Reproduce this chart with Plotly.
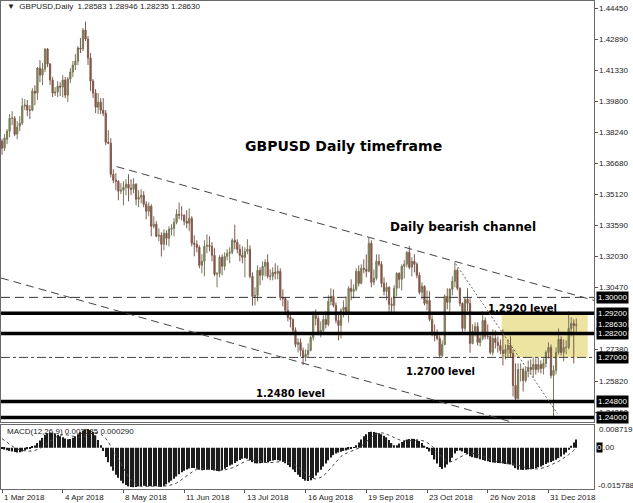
import plotly.graph_objects as go

# ---------------- DATA (GBPUSD daily, 1 Mar 2018 .. 16 Jan 2019) ----------------
opens = [
    1.3780,1.3745,1.3790,1.3830,1.3895,1.3895,1.3815,1.3855,1.3870,1.3955,1.3960,1.3935,1.3935,1.4030,1.4020,1.4145,1.4110,1.4140,1.4240,1.4165,1.4085,1.4020,
    1.4025,1.4055,1.4050,1.4085,1.4010,1.4090,1.4125,1.4160,1.4180,1.4245,1.4240,1.4335,1.4290,1.4195,1.4080,1.4020,1.3950,1.3975,1.3935,1.3920,1.3775,
    1.3770,1.3615,1.3585,1.3580,1.3530,1.3535,1.3550,1.3565,1.3545,1.3540,1.3565,1.3490,1.3500,1.3510,1.3465,1.3430,1.3455,1.3355,1.3365,1.3305,1.3310,1.3265,1.3320,
    1.3295,1.3340,1.3345,1.3375,1.3415,1.3410,1.3410,1.3380,1.3370,1.3395,1.3270,1.3265,1.3250,1.3160,1.3180,1.3255,1.3260,1.3255,1.3210,1.3115,1.3120,
    1.3200,1.3155,1.3205,1.3220,1.3225,1.3285,1.3275,1.3240,1.3210,1.3200,1.3230,1.3240,1.3105,1.3005,1.3010,1.3135,1.3110,1.3155,1.3175,1.3105,1.3105,1.3125,
    1.3120,1.3130,1.3000,1.2995,1.2935,1.2900,1.2890,1.2835,1.2765,1.2775,1.2735,1.2700,1.2715,1.2735,1.2800,1.2910,1.2895,1.2825,1.2835,1.2890,1.2865,1.2980,1.3005,
    1.2960,1.2885,1.2860,1.2935,1.2950,1.2925,1.3045,1.3030,1.3040,1.3130,1.3070,1.3145,1.3140,1.3130,1.3270,1.3075,1.3095,1.3180,1.3165,1.3070,
    1.3030,1.3050,1.2965,1.2960,1.3045,1.3120,1.3090,1.3155,1.3165,1.3225,1.3150,1.3180,1.3165,1.3110,1.3025,1.3055,1.2970,1.2985,1.2890,1.2815,1.2810,1.2795,1.2710,
    1.2765,1.3005,1.2975,1.3040,1.3080,1.3135,1.3045,1.2970,1.2845,1.2990,1.2970,1.2770,1.2830,1.2855,1.2775,1.2795,1.2885,1.2805,1.2805,1.2725,1.2795,1.2775,
    1.2760,1.2735,1.2720,1.2740,1.2760,1.2720,1.2560,1.2495,1.2640,1.2640,1.2585,1.2630,1.2650,1.2640,1.2665,1.2640,1.2665,1.2645,1.2670,1.2725,
    1.2750,1.2610,1.2635,1.2725,1.2790,1.2725,1.2750,1.2750,1.2845,1.2870,1.28583]
highs = [
    1.3792,1.3815,1.3840,1.3915,1.3930,1.3905,1.3880,1.3905,1.3995,1.3990,1.3985,1.3960,1.4045,1.4060,1.4150,1.4185,1.4170,1.4245,1.4245,1.4170,1.4100,1.4050,
    1.4080,1.4075,1.4110,1.4100,1.4100,1.4145,1.4180,1.4215,1.4255,1.4295,1.4345,1.4377,1.4305,1.4220,1.4090,1.4040,1.4020,1.3995,1.3995,1.3935,1.3835,
    1.3795,1.3640,1.3620,1.3585,1.3570,1.3580,1.3590,1.3615,1.3590,1.3595,1.3570,1.3535,1.3540,1.3530,1.3480,1.3475,1.3465,1.3405,1.3380,1.3345,1.3325,1.3340,1.3335,
    1.3355,1.3365,1.3395,1.3440,1.3473,1.3455,1.3415,1.3435,1.3445,1.3405,1.3310,1.3285,1.3260,1.3215,1.3285,1.3315,1.3305,1.3275,1.3245,1.3125,1.3210,
    1.3215,1.3225,1.3240,1.3250,1.3295,1.3363,1.3290,1.3265,1.3255,1.3250,1.3290,1.3260,1.3125,1.3050,1.3160,1.3150,1.3180,1.3190,1.3215,1.3140,1.3150,1.3170,
    1.3160,1.3145,1.3040,1.3000,1.2985,1.2925,1.2895,1.2850,1.2795,1.2795,1.2750,1.2740,1.2770,1.2810,1.2930,1.2940,1.2910,1.2880,1.2910,1.2930,1.3010,1.3045,1.3040,
    1.2975,1.2925,1.2945,1.2985,1.3005,1.3055,1.3090,1.3065,1.3145,1.3160,1.3165,1.3190,1.3215,1.3297,1.3285,1.3140,1.3215,1.3215,1.3180,1.3100,
    1.3075,1.3055,1.3000,1.3060,1.3125,1.3125,1.3165,1.3185,1.3230,1.3257,1.3200,1.3215,1.3175,1.3125,1.3075,1.3060,1.3035,1.3030,1.2910,1.2865,1.2840,1.2810,1.2785,
    1.3015,1.3045,1.3045,1.3105,1.3175,1.3145,1.3050,1.2975,1.3000,1.3045,1.2995,1.2865,1.2875,1.2875,1.2825,1.2930,1.2900,1.2865,1.2810,1.2840,1.2835,1.2805,
    1.2790,1.2840,1.2765,1.2790,1.2805,1.2740,1.2670,1.2670,1.2670,1.2650,1.2650,1.2685,1.2690,1.2700,1.2695,1.2700,1.2685,1.2695,1.2735,1.2775,
    1.2765,1.2660,1.2750,1.2845,1.2805,1.2790,1.2785,1.2930,1.2900,1.2890,1.28946]
lows = [
    1.3712,1.3730,1.3765,1.3800,1.3860,1.3805,1.3790,1.3830,1.3860,1.3935,1.3905,1.3890,1.3930,1.3960,1.3985,1.4075,1.4060,1.4125,1.4150,1.4060,1.4000,1.4005,
    1.4000,1.4005,1.4000,1.3995,1.3975,1.4070,1.4100,1.4135,1.4160,1.4220,1.4230,1.4280,1.4160,1.4030,1.3995,1.3920,1.3915,1.3915,1.3905,1.3760,1.3765,
    1.3600,1.3570,1.3535,1.3485,1.3515,1.3460,1.3510,1.3480,1.3510,1.3520,1.3460,1.3450,1.3470,1.3450,1.3390,1.3405,1.3305,1.3345,1.3300,1.3280,1.3204,1.3235,1.3260,
    1.3255,1.3310,1.3305,1.3365,1.3390,1.3385,1.3360,1.3345,1.3330,1.3255,1.3205,1.3225,1.3145,1.3120,1.3105,1.3220,1.3230,1.3180,1.3105,1.3050,1.3100,
    1.3110,1.3135,1.3185,1.3170,1.3215,1.3240,1.3220,1.3180,1.3170,1.3100,1.3215,1.3095,1.2958,1.2960,1.2980,1.3060,1.3085,1.3105,1.3095,1.3085,1.3085,1.3090,
    1.3090,1.2985,1.2955,1.2920,1.2880,1.2850,1.2815,1.2750,1.2725,1.2705,1.2662,1.2680,1.2700,1.2730,1.2785,1.2860,1.2810,1.2800,1.2825,1.2845,1.2855,1.2960,1.2950,
    1.2870,1.2785,1.2795,1.2900,1.2910,1.2875,1.2985,1.2995,1.3030,1.3055,1.3065,1.3120,1.3100,1.3125,1.3050,1.3060,1.3085,1.3155,1.3050,1.3010,
    1.2985,1.2925,1.2925,1.2925,1.3005,1.3045,1.3035,1.3095,1.3150,1.3140,1.3105,1.3125,1.3095,1.3015,1.2990,1.2960,1.2935,1.2880,1.2805,1.2780,1.2785,1.2696,1.2700,
    1.2760,1.2940,1.2915,1.3010,1.3050,1.3035,1.2955,1.2825,1.2830,1.2930,1.2723,1.2765,1.2805,1.2760,1.2755,1.2785,1.2790,1.2790,1.2715,1.2710,1.2745,1.2725,
    1.2715,1.2660,1.2690,1.2700,1.2700,1.2505,1.2477,1.2490,1.2580,1.2530,1.2575,1.2600,1.2615,1.2600,1.2615,1.2625,1.2620,1.2615,1.2650,1.2695,
    1.2595,1.2405,1.2615,1.2715,1.2710,1.2680,1.2715,1.2740,1.2805,1.2670,1.28235]
closes = [
    1.3745,1.3795,1.3830,1.3895,1.3895,1.3815,1.3850,1.3870,1.3955,1.3960,1.3935,1.3935,1.4030,1.4020,1.4145,1.4110,1.4140,1.4240,1.4165,1.4085,1.4020,1.4025,
    1.4055,1.4050,1.4085,1.4010,1.4090,1.4125,1.4160,1.4180,1.4245,1.4240,1.4335,1.4290,1.4195,1.4080,1.4020,1.3950,1.3975,1.3935,1.3920,1.3775,1.3770,
    1.3615,1.3585,1.3580,1.3530,1.3535,1.3550,1.3565,1.3545,1.3540,1.3565,1.3490,1.3500,1.3510,1.3465,1.3430,1.3455,1.3355,1.3365,1.3305,1.3310,1.3265,1.3320,1.3295,
    1.3340,1.3345,1.3375,1.3415,1.3410,1.3410,1.3380,1.3370,1.3395,1.3270,1.3265,1.3250,1.3160,1.3180,1.3255,1.3260,1.3255,1.3210,1.3115,1.3120,1.3200,
    1.3155,1.3205,1.3220,1.3225,1.3285,1.3275,1.3240,1.3210,1.3200,1.3230,1.3240,1.3105,1.3005,1.3010,1.3135,1.3110,1.3155,1.3175,1.3105,1.3105,1.3125,1.3120,
    1.3130,1.3000,1.2995,1.2935,1.2900,1.2890,1.2835,1.2765,1.2775,1.2735,1.2700,1.2715,1.2735,1.2800,1.2910,1.2895,1.2825,1.2835,1.2890,1.2865,1.2980,1.3005,1.2960,
    1.2885,1.2860,1.2935,1.2950,1.2925,1.3045,1.3030,1.3040,1.3130,1.3070,1.3145,1.3140,1.3130,1.3270,1.3075,1.3095,1.3180,1.3165,1.3070,1.3030,
    1.3050,1.2965,1.2960,1.3045,1.3120,1.3090,1.3155,1.3165,1.3225,1.3150,1.3180,1.3165,1.3110,1.3025,1.3055,1.2970,1.2985,1.2890,1.2815,1.2810,1.2795,1.2710,1.2765,
    1.3005,1.2975,1.3040,1.3080,1.3135,1.3045,1.2970,1.2845,1.2990,1.2970,1.2770,1.2830,1.2855,1.2775,1.2795,1.2885,1.2805,1.2805,1.2725,1.2795,1.2775,1.2760,
    1.2735,1.2720,1.2740,1.2760,1.2720,1.2560,1.2495,1.2640,1.2640,1.2585,1.2630,1.2650,1.2640,1.2665,1.2640,1.2665,1.2645,1.2670,1.2725,1.2750,
    1.2610,1.2635,1.2725,1.2790,1.2725,1.2750,1.2750,1.2845,1.2870,1.2860,1.28630]

# MACD(12,26,9) main line (histogram) and signal line
macd = [
    -0.0005,-0.0007,-0.0009,-0.0012,-0.0014,-0.0016,-0.0018,-0.0017,-0.0014,-0.0010,-0.0006,-0.0002,0.0003,0.0009,0.0018,0.0028,0.0038,0.0050,0.0056,0.0059,
    0.0058,0.0055,0.0050,0.0044,0.0040,0.0036,0.0033,0.0034,0.0038,0.0044,0.0052,0.0060,0.0066,0.0071,0.0072,0.0068,0.0060,0.0048,0.0030,0.0010,
    -0.0012,-0.0035,-0.0055,-0.0072,-0.0088,-0.0103,-0.0115,-0.0126,-0.0136,-0.0143,-0.0148,-0.0150,-0.0151,-0.0150,-0.0148,-0.0146,-0.0145,-0.0146,-0.0147,-0.0147,
    -0.0146,-0.0147,-0.0149,-0.0150,-0.0147,-0.0140,-0.0133,-0.0126,-0.0119,-0.0110,-0.0101,-0.0094,-0.0088,-0.0083,-0.0079,-0.0077,-0.0077,-0.0080,-0.0084,-0.0086,
    -0.0085,-0.0084,-0.0084,-0.0085,-0.0087,-0.0089,-0.0090,-0.0086,-0.0080,-0.0074,-0.0068,-0.0064,-0.0058,-0.0052,-0.0047,-0.0042,-0.0040,-0.0042,-0.0048,-0.0055,
    -0.0059,-0.0060,-0.0059,-0.0058,-0.0057,-0.0056,-0.0052,-0.0049,-0.0047,-0.0048,-0.0050,-0.0054,-0.0059,-0.0066,-0.0074,-0.0083,-0.0093,-0.0103,-0.0112,-0.0120,
    -0.0126,-0.0127,-0.0124,-0.0116,-0.0106,-0.0095,-0.0084,-0.0072,-0.0060,-0.0048,-0.0037,-0.0028,-0.0022,-0.0018,-0.0015,-0.0012,-0.0010,-0.0007,-0.0003,0.0002,
    0.0010,0.0020,0.0032,0.0044,0.0052,0.0060,0.0061,0.0060,0.0058,0.0056,0.0052,0.0046,0.0040,0.0030,0.0018,0.0010,0.0010,0.0016,0.0022,0.0028,
    0.0032,0.0034,0.0035,0.0034,0.0032,0.0026,0.0018,0.0008,-0.0002,-0.0014,-0.0028,-0.0045,-0.0060,-0.0074,-0.0081,-0.0076,-0.0064,-0.0055,-0.0038,-0.0022,
    -0.0012,-0.0010,-0.0014,-0.0020,-0.0025,-0.0032,-0.0036,-0.0038,-0.0040,-0.0044,-0.0047,-0.0050,-0.0052,-0.0054,-0.0056,-0.0057,-0.0058,-0.0059,-0.0060,-0.0062,
    -0.0063,-0.0064,-0.0068,-0.0078,-0.0084,-0.0084,-0.0085,-0.0084,-0.0083,-0.0082,-0.0081,-0.0078,-0.0075,-0.0072,-0.0067,-0.0062,-0.0057,-0.0054,-0.0050,-0.0046,
    -0.0040,-0.0033,-0.0026,-0.0018,-0.0008,0.0008,0.0020,0.003185]
signal = [
    0.0035,0.0028,0.0020,0.0012,0.0005,0.0000,-0.0005,-0.0008,-0.0010,-0.0012,-0.0013,-0.0013,-0.0012,-0.0010,-0.0007,-0.0002,0.0004,0.0011,0.0018,0.0025,
    0.0033,0.0040,0.0045,0.0049,0.0051,0.0051,0.0049,0.0046,0.0043,0.0041,0.0040,0.0041,0.0043,0.0046,0.0050,0.0054,0.0057,0.0058,0.0057,0.0053,
    0.0046,0.0036,0.0023,0.0008,-0.0009,-0.0027,-0.0045,-0.0063,-0.0081,-0.0097,-0.0111,-0.0123,-0.0133,-0.0140,-0.0145,-0.0148,-0.0148,-0.0148,-0.0148,-0.0148,
    -0.0147,-0.0147,-0.0147,-0.0147,-0.0147,-0.0146,-0.0145,-0.0142,-0.0139,-0.0135,-0.0129,-0.0122,-0.0115,-0.0107,-0.0100,-0.0093,-0.0087,-0.0083,-0.0080,-0.0080,
    -0.0081,-0.0082,-0.0083,-0.0084,-0.0085,-0.0086,-0.0086,-0.0086,-0.0085,-0.0083,-0.0080,-0.0077,-0.0073,-0.0068,-0.0063,-0.0057,-0.0052,-0.0048,-0.0047,-0.0047,
    -0.0048,-0.0050,-0.0052,-0.0054,-0.0056,-0.0057,-0.0057,-0.0056,-0.0054,-0.0053,-0.0052,-0.0052,-0.0053,-0.0055,-0.0058,-0.0062,-0.0067,-0.0073,-0.0081,-0.0089,
    -0.0098,-0.0106,-0.0113,-0.0117,-0.0119,-0.0118,-0.0114,-0.0108,-0.0099,-0.0088,-0.0076,-0.0064,-0.0052,-0.0042,-0.0033,-0.0026,-0.0021,-0.0017,-0.0013,-0.0010,
    -0.0006,-0.0001,0.0006,0.0015,0.0024,0.0033,0.0041,0.0048,0.0053,0.0056,0.0057,0.0056,0.0053,0.0049,0.0044,0.0039,0.0034,0.0030,0.0027,0.0026,
    0.0026,0.0026,0.0027,0.0028,0.0029,0.0029,0.0028,0.0025,0.0020,0.0014,0.0006,-0.0004,-0.0015,-0.0027,-0.0038,-0.0046,-0.0051,-0.0053,-0.0052,-0.0048,
    -0.0042,-0.0036,-0.0030,-0.0025,-0.0021,-0.0020,-0.0021,-0.0023,-0.0026,-0.0030,-0.0034,-0.0038,-0.0042,-0.0045,-0.0048,-0.0051,-0.0053,-0.0055,-0.0057,-0.0058,
    -0.0060,-0.0061,-0.0062,-0.0064,-0.0067,-0.0070,-0.0073,-0.0076,-0.0078,-0.0080,-0.0081,-0.0082,-0.0081,-0.0079,-0.0077,-0.0074,-0.0070,-0.0066,-0.0062,-0.0057,
    -0.0052,-0.0046,-0.0040,-0.0033,-0.0026,-0.0018,-0.0010,0.000290]

date_tick_bars = [0, 24, 48, 72, 96, 120, 144, 168, 192, 216]
date_tick_labels = ["1 Mar 2018", "4 Apr 2018", "8 May 2018", "11 Jun 2018", "13 Jul 2018",
                    "16 Aug 2018", "19 Sep 2018", "23 Oct 2018", "26 Nov 2018", "31 Dec 2018"]
price_ticks = [1.44450, 1.42890, 1.41330, 1.39800, 1.38240, 1.36680, 1.35120, 1.33590,
               1.32030, 1.30470, 1.27380, 1.25820, 1.24260]
level_boxes = [1.30000, 1.29200, 1.28630, 1.28200, 1.27000, 1.24800, 1.24000]
thick_levels = [1.2920, 1.2820, 1.2480, 1.2400]
round_level = 1.3000
support_level = 1.2700
last_ohlc = "1.28583 1.28946 1.28235 1.28630"
macd_label = "MACD(12,26,9) 0.003185 0.000290"
macd_axis_top, macd_axis_bottom = 0.008719, -0.015788

# trend lines (bar index, price)
upper_channel = [(45.3, 1.3653), (234.0, 1.2985)]
lower_channel = [(-0.4, 1.30967), (204.7, 1.2366)]
dotted_line = [(179.3, 1.3168), (219.5, 1.2420)]
zone = dict(x0=197.5, x1=231.5, y0=1.2700, y1=1.2920)

# ---------------- FIGURE ----------------
bars = list(range(len(closes)))
XR = [-0.4, 234.0]
LBL = dict(family="Liberation Sans", size=8, color="#222222")

fig = go.Figure()
fig.add_trace(go.Candlestick(
    x=bars, open=opens, high=highs, low=lows, close=closes,
    xaxis="x", yaxis="y", whiskerwidth=0, showlegend=False, hoverinfo="skip",
    increasing=dict(line=dict(color="#77775a", width=1), fillcolor="#8f8f45"),
    decreasing=dict(line=dict(color="#7e5a50", width=1), fillcolor="#a3452c"),
))
fig.add_trace(go.Bar(x=bars, y=macd, xaxis="x2", yaxis="y2", width=0.5,
                     marker=dict(color="#1c1c1c", line=dict(width=0)),
                     showlegend=False, hoverinfo="skip"))
fig.add_trace(go.Scatter(x=bars, y=signal, xaxis="x2", yaxis="y2", mode="lines",
                         line=dict(color="#444444", width=1, dash="dot"),
                         showlegend=False, hoverinfo="skip"))

shapes = []
shapes.append(dict(type="rect", xref="x", yref="y", layer="below", line=dict(width=0),
                   fillcolor="rgb(238,228,162)", **zone))
shapes.append(dict(type="line", xref="x domain", yref="y", x0=0, x1=1,
                   y0=round_level, y1=round_level,
                   line=dict(color="#333333", width=1, dash="9px,5px")))
shapes.append(dict(type="line", xref="x domain", yref="y", x0=0, x1=1,
                   y0=support_level, y1=support_level,
                   line=dict(color="#444444", width=1, dash="dashdot")))
for lv in thick_levels:
    shapes.append(dict(type="line", xref="x domain", yref="y", x0=0, x1=1, y0=lv, y1=lv,
                       line=dict(color="#000000", width=3.5)))
for (a, b) in (upper_channel, lower_channel):
    shapes.append(dict(type="line", xref="x", yref="y", x0=a[0], y0=a[1], x1=b[0], y1=b[1],
                       line=dict(color="#444444", width=1, dash="8px,5px")))
shapes.append(dict(type="line", xref="x", yref="y", x0=dotted_line[0][0], y0=dotted_line[0][1],
                   x1=dotted_line[1][0], y1=dotted_line[1][1],
                   line=dict(color="#666666", width=1, dash="2px,2px")))

ann = []
BOLD = "DejaVu Sans"
def big(text, x, y, size):
    ann.append(dict(text="<b>%s</b>" % text, x=x, y=y, xref="x", yref="y", showarrow=False,
                    font=dict(family=BOLD, size=size, color="#000000"),
                    xanchor="center", yanchor="middle"))
big("GBPUSD Daily timeframe", 134.8, 1.3755, 14)
big("Daily bearish channel", 182.2, 1.3350, 12)
big("1.2920 level", 205.7, 1.2943, 10)
big("1.2700 level", 173.5, 1.2628, 10)
big("1.2480 level", 114.2, 1.2518, 10)

# right price scale labels
for v in price_ticks:
    ann.append(dict(text="%.5f" % v, x=1, y=v, xref="paper", yref="y", showarrow=False,
                    xanchor="left", yanchor="middle", xshift=3, font=LBL))
for lv in level_boxes:
    ann.append(dict(text="%.5f" % lv, x=1, y=lv, xref="paper", yref="y", showarrow=False,
                    xanchor="left", yanchor="middle", xshift=2, bgcolor="#000000",
                    borderpad=1, font=dict(family="Liberation Sans", size=8, color="#ffffff")))
# date labels
for b, t in zip(date_tick_bars, date_tick_labels):
    ann.append(dict(text=t, x=b, y=0, xref="x2", yref="paper", showarrow=False,
                    xanchor="left", yanchor="top", yshift=-2, font=LBL))

ann.append(dict(text="▼  GBPUSD,Daily  " + last_ohlc, x=0.006, y=0.988, xref="paper", yref="paper",
                showarrow=False, xanchor="left", yanchor="middle", font=LBL))
ann.append(dict(text=macd_label, x=0.006, y=0.117, xref="paper", yref="paper",
                showarrow=False, xanchor="left", yanchor="middle", font=LBL))
ann.append(dict(text="%.6f" % macd_axis_top, x=1, y=0.121, xref="paper", yref="paper", xshift=3,
                showarrow=False, xanchor="left", yanchor="middle", font=LBL))
ann.append(dict(text="%.6f" % macd_axis_bottom, x=1, y=0.007, xref="paper", yref="paper", xshift=2,
                showarrow=False, xanchor="left", yanchor="middle", font=LBL))
ann.append(dict(text="0", x=1, y=0, xref="paper", yref="y2", xshift=2,
                showarrow=False, xanchor="left", yanchor="middle", bgcolor="#000000", borderpad=0,
                font=dict(family="Liberation Sans", size=8, color="#ffffff")))
ann.append(dict(text=".00", x=1, y=0, xref="paper", yref="y2", xshift=7,
                showarrow=False, xanchor="left", yanchor="middle", font=LBL))

axis_common = dict(showgrid=False, zeroline=False, showline=True, mirror=True,
                   linecolor="#6a6a6a", linewidth=1, automargin=False)
fig.update_layout(
    width=633, height=503, margin=dict(l=1, r=39, t=1, b=14),
    paper_bgcolor="#ffffff", plot_bgcolor="#ffffff",
    font=LBL, hovermode=False, showlegend=False,
    shapes=shapes, annotations=ann,
    xaxis=dict(domain=[0, 1], anchor="y", range=XR, showticklabels=False, ticks="",
               rangeslider=dict(visible=False), **axis_common),
    yaxis=dict(domain=[0.1373, 1], anchor="x", side="right", range=[1.23775, 1.44801],
               tickvals=price_ticks, showticklabels=False,
               ticks="outside", ticklen=3, tickcolor="#555555", **axis_common),
    xaxis2=dict(domain=[0, 1], anchor="y2", range=XR, tickvals=date_tick_bars,
                showticklabels=False, ticks="outside", ticklen=3, tickcolor="#555555",
                **axis_common),
    yaxis2=dict(domain=[0, 0.1311], anchor="x2", side="right",
                range=[macd_axis_bottom, macd_axis_top],
                showticklabels=False, ticks="", **axis_common),
)
fig.write_html("out.html", config={"displayModeBar": False},
               post_script="document.body.style.margin='0px';document.body.style.overflow='hidden';")
